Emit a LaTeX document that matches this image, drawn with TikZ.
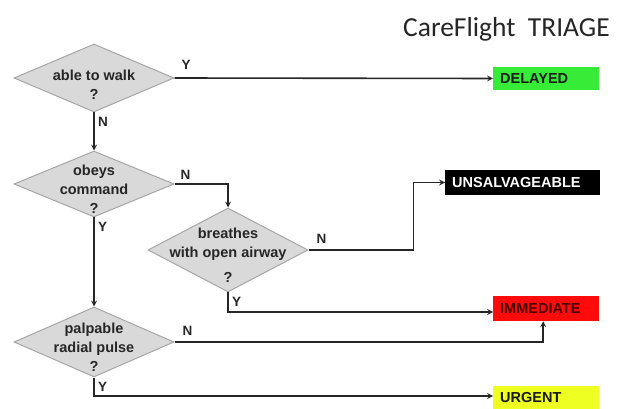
\documentclass[tikz,border=0pt]{standalone}
\usepackage{fontspec}
\setmainfont{Liberation Sans}
\newfontfamily\titlefont{Carlito}
\usetikzlibrary{shapes.geometric}
\definecolor{qfill}{HTML}{D9D9D9}
\definecolor{qline}{HTML}{A6A6A6}
\definecolor{cgreen}{HTML}{36EC36}
\definecolor{cred}{HTML}{FF0B0B}
\definecolor{cyellow}{HTML}{EEFF22}
\begin{document}
\begin{tikzpicture}[x=1pt,y=-1pt,>=stealth]
        \tikzstyle{decision}=[diamond,draw=qline,fill=qfill,line width=1pt,inner sep=0pt,minimum width=160pt]
        \tikzstyle{qtext}=[align=center,font=\bfseries\fontsize{14.5}{19}\selectfont,text=black!85]
        \tikzstyle{outcome}=[anchor=west,inner xsep=7pt,inner ysep=0pt,minimum height=25pt,align=left,font=\bfseries\fontsize{14.5}{17}\selectfont]
        \tikzstyle{edge}=[draw,->,line width=1.6pt,black!85]
        \tikzstyle{yn}=[font=\bfseries\fontsize{13.5}{15}\selectfont,text=black!85]
       \useasboundingbox (0,0) rectangle (622,409);
       \begin{scope}
         % title
         \node [anchor=base west,inner sep=0pt,font=\titlefont\fontsize{27.5}{33}\selectfont,text=black!85] (title) at (403,37) {CareFlight\ \ TRIAGE};
         % questions
         \node [decision,minimum height=68pt] (walk) at (94,78) {};
         \node [decision,minimum height=66pt] (obeys) at (94,184) {};
         \node [decision,minimum height=84pt] (breathes) at (228,250) {};
         \node [decision,minimum height=70pt] (pulse) at (94,342) {};
         \node [qtext] (walk-t) at ([yshift=-7pt]walk.center) {able to walk\\?};
         \node [qtext] (obeys-t) at ([yshift=-5pt]obeys.center) {obeys\\command\\?};
         \node [qtext] (breathes-t) at ([yshift=-5pt]breathes.center) {breathes\\with open airway\\[6pt]?};
         \node [qtext] (pulse-t) at ([yshift=-5pt]pulse.center) {palpable\\radial pulse\\?};
         % outcomes
         \node [outcome,fill=cgreen,text=black!90,text width=92pt,minimum height=23pt] (delayed) at (493,78.5) {DELAYED};
         \node [outcome,fill=black,text=white,text width=141pt] (unsalv) at (445,182.5) {UNSALVAGEABLE};
         \node [outcome,fill=cred,text=black!70!red,text width=92pt] (immediate) at (493,308.5) {IMMEDIATE};
         \node [outcome,fill=cyellow,text=black!90,text width=92pt,minimum height=24pt] (urgent) at (493,398) {URGENT};
         % connectors
         \path[edge] (walk.east) -- node[yn,pos=0,above right,xshift=3pt,yshift=4pt] {Y} (delayed.west);
         \path[edge] (walk.south) -- node[yn,pos=0,below right,yshift=-1pt] {N} (obeys.north);
         \path[edge] (obeys.east) -| node[yn,pos=0,above right,xshift=2pt] {N} (breathes.north);
         \path[edge] (obeys.south) -- node[yn,pos=0,below right,yshift=-1pt] {Y} (pulse.north);
         \path[edge] (breathes.east) -- node[yn,pos=0,above right,xshift=4pt,yshift=2pt] {N} ++(105,0) |- (unsalv.west);
         \path[edge] (breathes.south) |- node[yn,pos=0,below right,yshift=-1pt] {Y} ([yshift=-3.5pt]immediate.west);
         \path[edge] (pulse.east) -| node[yn,pos=0,above right,xshift=4pt,yshift=2pt] {N} ([xshift=-3pt]immediate.south);
         \path[edge] (pulse.south) |- node[yn,pos=0,below right,yshift=-1pt] {Y} ([yshift=2pt]urgent.west);
        \end{scope}
      \end{tikzpicture}
\end{document}
